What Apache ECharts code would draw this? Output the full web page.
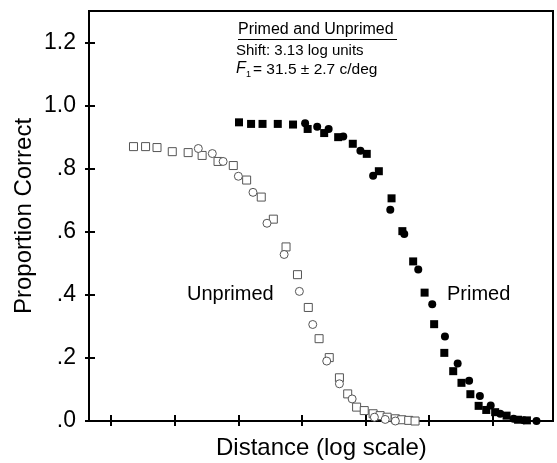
<!DOCTYPE html>
<html>
<head>
<meta charset="utf-8">
<script src="https://cdn.jsdelivr.net/npm/echarts@6/dist/echarts.min.js"></script>
<style>
html,body{margin:0;padding:0;background:#fff;}
#c{width:557px;height:463px;}
</style>
</head>
<body>
<div id="c"></div>
<script>
// Distance in log units (arbitrary origin, ticks every 1 unit), proportion correct
var unprimedSquares = [[1.35,0.870],[1.54,0.870],[1.72,0.867],[1.96,0.854],[2.21,0.851],[2.43,0.842],[2.68,0.823],[2.92,0.810],[3.13,0.764],[3.36,0.710],[3.55,0.640],[3.75,0.552],[3.93,0.464],[4.10,0.360],[4.27,0.261],[4.43,0.201],[4.59,0.137],[4.72,0.086],[4.86,0.044],[4.98,0.033],[5.12,0.023],[5.23,0.017],[5.34,0.012],[5.47,0.007],[5.57,0.004],[5.68,0.002],[5.78,0.000]];
var unprimedCircles = [[2.37,0.864],[2.59,0.848],[2.76,0.823],[3.00,0.776],[3.23,0.725],[3.45,0.627],[3.72,0.528],[3.96,0.411],[4.17,0.306],[4.39,0.190],[4.59,0.118],[4.79,0.070],[5.14,0.012],[5.31,0.005],[5.47,0.000]];
var primedSquares = [[3.01,0.947],[3.20,0.942],[3.38,0.942],[3.62,0.942],[3.86,0.940],[4.09,0.926],[4.35,0.913],[4.57,0.900],[4.80,0.879],[5.02,0.847],[5.21,0.792],[5.41,0.706],[5.58,0.602],[5.75,0.506],[5.93,0.407],[6.08,0.307],[6.24,0.216],[6.38,0.158],[6.51,0.121],[6.65,0.085],[6.78,0.048],[6.90,0.035],[7.04,0.028],[7.22,0.017],[7.40,0.004],[7.54,0.002]];
var primedCircles = [[4.05,0.944],[4.24,0.933],[4.42,0.926],[4.65,0.902],[4.92,0.857],[5.12,0.778],[5.39,0.670],[5.61,0.593],[5.83,0.480],[6.05,0.370],[6.25,0.268],[6.45,0.182],[6.63,0.128],[6.80,0.079],[6.97,0.049],[7.12,0.023],[7.33,0.007],[7.49,0.002],[7.69,0.000]];
var xTicks = [1,2,3,4,5,6,7];
var yTicks = [0,0.2,0.4,0.6,0.8,1.0,1.2];
var yTickLabels = ['.0','.2','.4','.6','.8','1.0','1.2'];

var FONT = 'Liberation Sans, Arial, Helvetica, sans-serif';
var chart = echarts.init(document.getElementById('c'), null, {renderer:'canvas'});

function openStyle(){ return {color:'#fff', borderColor:'#555', borderWidth:1, opacity:1}; }
function filledStyle(){ return {color:'#000', opacity:1}; }

var xBase = {type:'value', min:0.65, max:7.95, splitLine:{show:false}, axisLabel:{show:false}};
var yBase = {type:'value', min:0, max:1.3, splitLine:{show:false}};

chart.setOption({
  animation:false,
  backgroundColor:'#fff',
  grid:{left:89, right:4, top:11, bottom:42, show:true, borderColor:'#000', borderWidth:2, backgroundColor:'transparent'},
  xAxis:[
    Object.assign({}, xBase, {position:'bottom',
      axisLine:{show:true, lineStyle:{color:'#000', width:2}},
      axisTick:{show:true, inside:true, length:6, customValues:xTicks, lineStyle:{color:'#000', width:2}}}),
    Object.assign({}, xBase, {position:'bottom',
      axisLine:{show:true, lineStyle:{color:'#000', width:2}},
      axisTick:{show:true, inside:false, length:5, customValues:xTicks, lineStyle:{color:'#000', width:2}}})
  ],
  yAxis:[
    Object.assign({}, yBase, {position:'left',
      axisLine:{show:true, lineStyle:{color:'#000', width:2}},
      axisTick:{show:true, inside:true, length:6, customValues:yTicks, lineStyle:{color:'#000', width:2}},
      axisLabel:{show:true, customValues:yTicks, margin:13, color:'#000', fontSize:23, fontFamily:FONT,
        formatter:function(v){ var i = yTicks.findIndex(function(t){return Math.abs(t-v)<1e-6;}); return i>=0 ? yTickLabels[i] : ''; }}}),
    Object.assign({}, yBase, {position:'left',
      axisLine:{show:true, lineStyle:{color:'#000', width:2}},
      axisTick:{show:true, inside:false, length:4, customValues:yTicks, lineStyle:{color:'#000', width:2}},
      axisLabel:{show:false}})
  ],
  series:[
    {name:'Unprimed squares', type:'scatter', xAxisIndex:0, yAxisIndex:0, symbol:'rect', symbolSize:8, itemStyle:openStyle(), data:unprimedSquares},
    {name:'Unprimed circles', type:'scatter', xAxisIndex:0, yAxisIndex:0, symbol:'circle', symbolSize:8, itemStyle:openStyle(), data:unprimedCircles},
    {name:'Primed squares', type:'scatter', xAxisIndex:0, yAxisIndex:0, symbol:'rect', symbolSize:8, itemStyle:filledStyle(), data:primedSquares},
    {name:'Primed circles', type:'scatter', xAxisIndex:0, yAxisIndex:0, symbol:'circle', symbolSize:8, itemStyle:filledStyle(), data:primedCircles}
  ],
  graphic:[
    {type:'text', left:216, top:436, style:{text:'Distance (log scale)', font:'24px '+FONT, fill:'#000'}},
    {type:'text', x:12, y:314, rotation:Math.PI/2, style:{text:'Proportion Correct', font:'24px '+FONT, fill:'#000', textAlign:'left', textVerticalAlign:'top'}},
    {type:'text', left:187, top:284, style:{text:'Unprimed', font:'20px '+FONT, fill:'#000'}},
    {type:'text', left:447, top:284, style:{text:'Primed', font:'20px '+FONT, fill:'#000'}},
    {type:'text', left:238, top:22, style:{text:'Primed and Unprimed', font:'16px '+FONT, fill:'#000'}},
    {type:'line', shape:{x1:238, y1:39.5, x2:397, y2:39.5}, style:{stroke:'#000', lineWidth:1}},
    {type:'text', left:236, top:43, style:{text:'Shift: 3.13 log units', font:'15px '+FONT, fill:'#000'}},
    {type:'text', left:236, top:61, style:{text:'F', font:'italic 16px '+FONT, fill:'#000'}},
    {type:'text', left:246, top:70, style:{text:'1', font:'9px '+FONT, fill:'#000'}},
    {type:'text', left:253, top:62, style:{text:'= 31.5 \u00b1 2.7 c/deg', font:'15.5px '+FONT, fill:'#000'}}
  ]
});
</script>
</body>
</html>
